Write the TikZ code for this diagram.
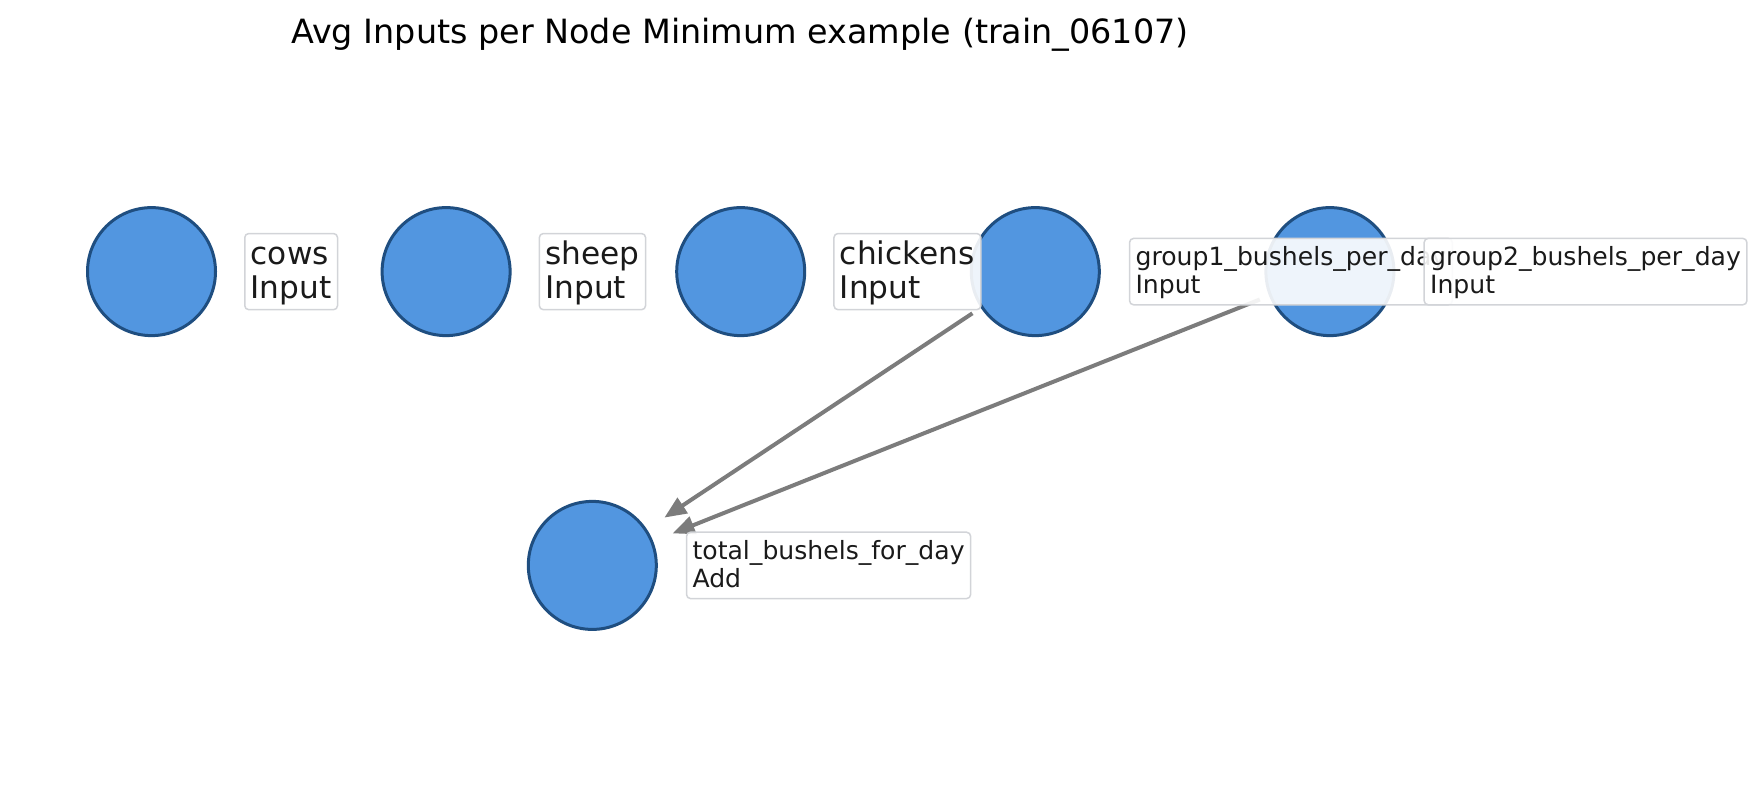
\documentclass[tikz,border=0pt]{standalone}
\usepackage{fontspec}
\setmainfont{DejaVu Sans}
\usepackage{tikz}
\usetikzlibrary{arrows.meta,positioning}
\definecolor{node_fill}{HTML}{5296E0}
\definecolor{node_edge}{HTML}{1F4E80}
\definecolor{box_edge}{HTML}{D2D4D8}
\definecolor{text_dark}{HTML}{1A1A1A}
\definecolor{arrow_gray}{HTML}{7C7C7C}
\newcommand{\nodetext}[2]{\rule{0pt}{0.93em}#1\\#2\rule[-0.28em]{0pt}{0pt}}
\tikzset{
graph_node/.style={circle, draw=node_edge, fill=node_fill, line width=1.5pt, minimum size=64pt, inner sep=0pt},
node_label/.style={rectangle, rounded corners=2pt, draw=box_edge, line width=0.75pt, fill=white, fill opacity=0.9, text opacity=1, text=text_dark, align=left, inner xsep=0.3em, inner ysep=0.1em},
big_label/.style={node_label, font=\fontsize{15.6}{17.2}\selectfont},
small_label/.style={node_label, inner ysep=0.19em, font=\fontsize{12.55}{14.2}\selectfont},
title_text/.style={font=\fontsize{16.7}{20}\selectfont, text=black},
flow_arrow/.style={draw=arrow_gray, line width=2pt, -{Triangle[length=11pt,width=9pt]}, shorten <=5pt, shorten >=10.5pt}
}

\begin{document}
\begin{tikzpicture}[x=0.5pt,y=-0.5pt]
    \useasboundingbox (0,0) rectangle (1759,797);
    \node[title_text] (title) at (740,35) {Avg Inputs per Node Minimum example (train\_06107)};
    \node[graph_node] (cows) at (151.5,271.6) {};
    \node[graph_node] (sheep) [right=81.8pt of cows] {};
    \node[graph_node] (chickens) [right=81.8pt of sheep] {};
    \node[graph_node] (group1) [right=81.8pt of chickens] {};
    \node[graph_node] (group2) [right=81.8pt of group1] {};
    \node[graph_node] (total) at (592.3,565.4) {};
    \draw[flow_arrow] (group1) -- (total);
    \draw[flow_arrow] (group2) -- (total);
    \node[big_label] (cows_label) [right=13.5pt of cows] {\nodetext{cows}{Input}};
    \node[big_label] (sheep_label) [right=13.5pt of sheep] {\nodetext{sheep}{Input}};
    \node[big_label] (chickens_label) [right=13.5pt of chickens] {\nodetext{chickens}{Input}};
    \node[small_label] (group1_label) [right=14pt of group1] {\nodetext{group1\_bushels\_per\_day}{Input}};
    \node[small_label] (group2_label) [right=14pt of group2] {\nodetext{group2\_bushels\_per\_day}{Input}};
    \node[small_label] (total_label) [right=14pt of total] {\nodetext{total\_bushels\_for\_day}{Add}};
\end{tikzpicture}
\end{document}
